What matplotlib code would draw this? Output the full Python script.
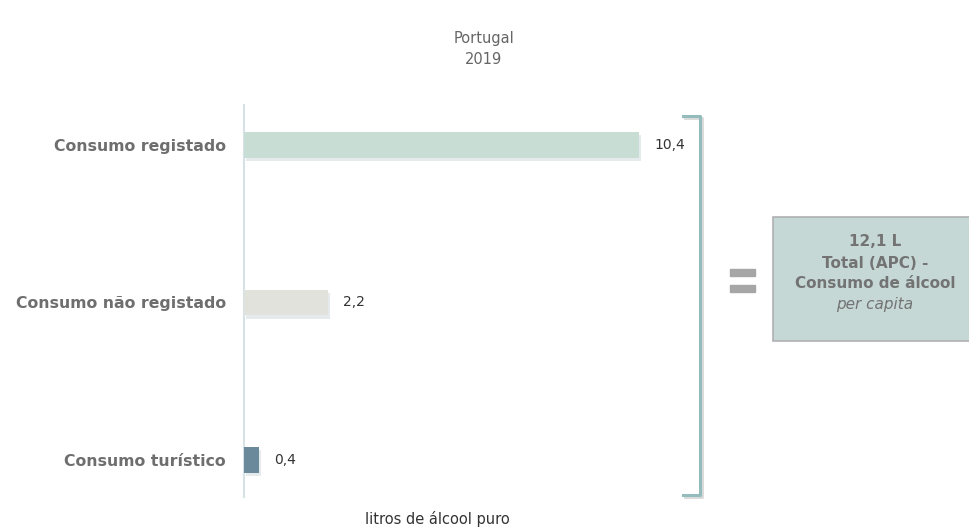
import matplotlib
matplotlib.use("Agg")
import matplotlib.pyplot as plt
from matplotlib.patches import Rectangle
import matplotlib.patheffects as pe

categories = ["Consumo registado", "Consumo não registado", "Consumo turístico"]
values = [10.4, 2.2, 0.4]
value_labels = ["10,4", "2,2", "0,4"]
colors = ["#c8ddd4", "#e2e2dc", "#6a8a9c"]
total_lines = ["12,1 L", "Total (APC) -", "Consumo de álcool"]
total_italic = "per capita"
title1 = "Portugal"
title2 = "2019"
xlabel = "litros de álcool puro"

plt.rcParams['font.family'] = ['DejaVu Sans']

W, H = 969, 528
fig = plt.figure(figsize=(W/100, H/100), dpi=100)

def fx(px): return px / W
def fy(py): return 1 - py / H

ax_left, ax_right = 244, 244 + 11 * 38
ax_top, ax_bot = 105, 497
ax = fig.add_axes([fx(ax_left), fy(ax_bot), fx(ax_right - ax_left), (ax_bot - ax_top) / H])
ax.set_xlim(0, 11)
ax.set_ylim(2 + 37/157.5, -40/157.5)
ypos = list(range(len(categories)))
bars = ax.barh(ypos, values, height=0.165, color=colors, zorder=3)
for b in bars:
    b.set_path_effects([pe.SimplePatchShadow(offset=(1.5, -2.5), shadow_rgbFace="#b5c3cc", alpha=0.35), pe.Normal()])
for y, v, lab in zip(ypos, values, value_labels):
    ax.annotate(lab, (v, y), xytext=(11, 0), textcoords="offset points",
                va="center", ha="left", fontsize=10, color="#333333")
ax.set_yticks(ypos)
ax.set_yticklabels(categories, fontsize=11.3, fontweight="bold", color="#6e6e6e")
ax.tick_params(axis="y", length=0, pad=13)
ax.set_xticks([])
for s in ["top", "right", "bottom"]:
    ax.spines[s].set_visible(False)
ax.spines["left"].set_color("#d6e2e6")
ax.spines["left"].set_linewidth(1.5)

# titles
fig.text(fx(484), fy(38), title1, ha="center", va="center", fontsize=10.5, color="#666666")
fig.text(fx(484), fy(60), title2, ha="center", va="center", fontsize=10.5, color="#666666")
fig.text(fx(437), fy(519), xlabel, ha="center", va="center", fontsize=10.5, color="#333333")

# bracket
bc = "#95bcbc"
shadow = [pe.SimpleLineShadow(offset=(1.5, -1.5), shadow_color="#999999", alpha=0.35), pe.Normal()]
fig.add_artist(plt.Line2D([fx(683), fx(700), fx(700), fx(683)], [fy(116), fy(116), fy(495), fy(495)],
                          color=bc, lw=2.2, solid_joinstyle="round", path_effects=shadow))

# equal sign
fig.add_artist(Rectangle((fx(730), fy(276)), fx(25), 7/H, color="#a6a6a6", transform=fig.transFigure))
fig.add_artist(Rectangle((fx(730), fy(292)), fx(25), 7/H, color="#a6a6a6", transform=fig.transFigure))

# total box
fig.add_artist(Rectangle((fx(773), fy(341)), fx(200), (341-217)/H, facecolor="#c5d8d6",
                         edgecolor="#b0b0b0", lw=1.2, transform=fig.transFigure))
for i, line in enumerate(total_lines):
    fig.text(fx(875), fy(242 + 21 * i), line, ha="center", va="center", fontsize=11,
             fontweight="bold", color="#737373")
fig.text(fx(875), fy(305), total_italic, ha="center", va="center", fontsize=11, style="italic",
         color="#737373")

fig.savefig("out.png", dpi=100)
